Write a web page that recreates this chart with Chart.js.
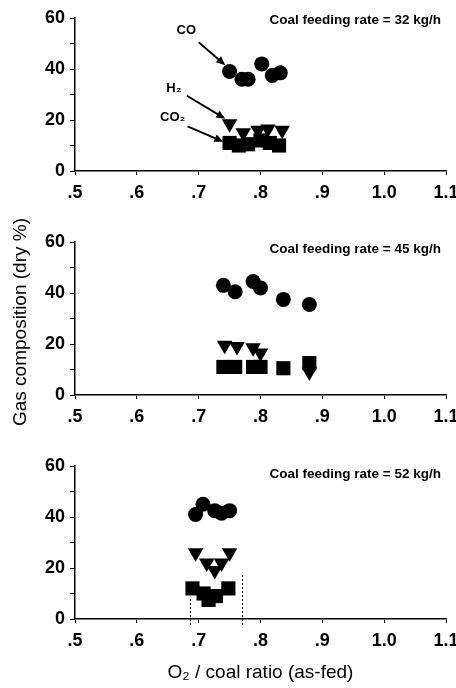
<!DOCTYPE html>
<html>
<head>
<meta charset="utf-8">
<script src="https://cdn.jsdelivr.net/npm/chart.js@4.4.0/dist/chart.umd.min.js"></script>
<style>
  html, body { margin: 0; padding: 0; background: #fff; }
  #wrap { position: relative; width: 456px; height: 688px; overflow: hidden; }
  .pane { position: absolute; left: 0; }
  #ytitle {
    position: absolute; left: 20px; top: 322px; width: 0; height: 0;
  }
  #ytitle span {
    position: absolute; left: 0; top: 0; white-space: nowrap;
    font: 19px "Liberation Sans", Arial, sans-serif; color: #000;
    transform: translate(-50%, -50%) rotate(-90deg);
  }
</style>
</head>
<body>
<div id="wrap">
  <div class="pane" style="top:0;width:456px;height:224px"><canvas id="c1"></canvas></div>
  <div class="pane" style="top:224px;width:456px;height:224px"><canvas id="c2"></canvas></div>
  <div class="pane" style="top:448px;width:456px;height:240px"><canvas id="c3"></canvas></div>
  <div id="ytitle"><span id="ytitleText"></span></div>
</div>
<script>
// ---------- data ----------
const xTickLabels = ['.5', '.6', '.7', '.8', '.9', '1.0', '1.1'];
const yTickLabels = ['0', '20', '40', '60'];
const panelTitles = ['Coal feeding rate = 32 kg/h', 'Coal feeding rate = 45 kg/h', 'Coal feeding rate = 52 kg/h'];
const yAxisTitle = 'Gas composition (dry %)';
const xAxisTitle = 'O\u2082 / coal ratio (as-fed)';

// Panel 1: 32 kg/h
const co1X  = [0.750, 0.770, 0.780, 0.802, 0.819, 0.832];
const co1Y  = [39, 36, 36, 42, 37.5, 38.5];
const h21X  = [0.750, 0.772, 0.796, 0.812, 0.835];
const h21Y  = [18.5, 15, 16, 16.5, 16];
const co21X = [0.750, 0.765, 0.780, 0.800, 0.815, 0.830];
const co21Y = [11, 10, 10.5, 12, 11, 10];

// Panel 2: 45 kg/h
const co2X  = [0.740, 0.759, 0.788, 0.800, 0.837, 0.879];
const co2Y  = [43, 40.5, 44.5, 42, 37.5, 35.5];
const h22X  = [0.742, 0.762, 0.788, 0.800, 0.879];
const h22Y  = [19.5, 19, 18.5, 16.5, 9];
const co22X = [0.740, 0.759, 0.788, 0.800, 0.837, 0.879];
const co22Y = [11, 11, 11, 11, 10.5, 12.5];

// Panel 3: 52 kg/h
const co3X  = [0.695, 0.707, 0.726, 0.737, 0.750];
const co3Y  = [41, 45, 42.5, 41.5, 42.5];
const h23X  = [0.695, 0.713, 0.726, 0.737, 0.750];
const h23Y  = [26, 22, 19, 22, 26];
const co23X = [0.690, 0.708, 0.716, 0.728, 0.748];
const co23Y = [12, 10, 7.5, 9, 12];

// Panel 3 dotted range lines (x, top value)
const rangeX   = [0.686, 0.770];
const rangeTop = [8, 18];

// Panel 1 annotations: label, label pos, arrow start, arrow end (data coords)
const annoText = ['CO', 'H\u2082', 'CO\u2082'];
const annoLabelX = [0.680, 0.660, 0.658];
const annoLabelY = [55, 32.5, 21];
const annoFromX = [0.700, 0.681, 0.682];
const annoFromY = [50.5, 29.5, 17.5];
const annoToX   = [0.743, 0.743, 0.740];
const annoToY   = [41.5, 20.5, 11.5];

const FONT = '"Liberation Sans", Arial, sans-serif';
document.getElementById('ytitleText').textContent = yAxisTitle;

function pts(xs, ys) { return xs.map((x, i) => ({ x: x, y: ys[i] })); }

const titlePlugin = {
  id: 'panelTitle',
  afterDraw(chart) {
    const o = chart.options.plugins.panelTitle;
    if (!o) return;
    const ctx = chart.ctx, a = chart.chartArea;
    ctx.save();
    ctx.font = 'bold 13.5px ' + FONT;
    ctx.fillStyle = '#000';
    ctx.textAlign = 'right';
    ctx.textBaseline = 'middle';
    ctx.fillText(o.text, a.right - 5, a.top + o.dy);
    ctx.restore();
  }
};

const annoPlugin = {
  id: 'annoArrows',
  afterDatasetsDraw(chart) {
    const o = chart.options.plugins.annoArrows;
    if (!o || !o.on) return;
    const ctx = chart.ctx, xs = chart.scales.x, ys = chart.scales.y;
    ctx.save();
    ctx.fillStyle = '#000'; ctx.strokeStyle = '#000';
    ctx.font = 'bold 13px ' + FONT;
    ctx.textAlign = 'center'; ctx.textBaseline = 'middle';
    for (let i = 0; i < annoText.length; i++) {
      ctx.fillText(annoText[i], xs.getPixelForValue(annoLabelX[i]), ys.getPixelForValue(annoLabelY[i]));
      const x1 = xs.getPixelForValue(annoFromX[i]), y1 = ys.getPixelForValue(annoFromY[i]);
      const x2 = xs.getPixelForValue(annoToX[i]), y2 = ys.getPixelForValue(annoToY[i]);
      const ang = Math.atan2(y2 - y1, x2 - x1);
      ctx.lineWidth = 1.8;
      ctx.beginPath(); ctx.moveTo(x1, y1);
      ctx.lineTo(x2 - 6 * Math.cos(ang), y2 - 6 * Math.sin(ang)); ctx.stroke();
      ctx.beginPath();
      ctx.moveTo(x2, y2);
      ctx.lineTo(x2 - 9 * Math.cos(ang) + 4 * Math.sin(ang), y2 - 9 * Math.sin(ang) - 4 * Math.cos(ang));
      ctx.lineTo(x2 - 9 * Math.cos(ang) - 4 * Math.sin(ang), y2 - 9 * Math.sin(ang) + 4 * Math.cos(ang));
      ctx.closePath(); ctx.fill();
    }
    ctx.restore();
  }
};

const rangePlugin = {
  id: 'rangeLines',
  beforeDatasetsDraw(chart) {
    const o = chart.options.plugins.rangeLines;
    if (!o || !o.on) return;
    const ctx = chart.ctx, xs = chart.scales.x, ys = chart.scales.y;
    ctx.save();
    ctx.strokeStyle = '#000'; ctx.lineWidth = 1; ctx.setLineDash([2, 2]);
    for (let i = 0; i < rangeX.length; i++) {
      const x = Math.round(xs.getPixelForValue(rangeX[i])) + 0.5;
      ctx.beginPath();
      ctx.moveTo(x, ys.getPixelForValue(0) + 6);
      ctx.lineTo(x, ys.getPixelForValue(rangeTop[i]));
      ctx.stroke();
    }
    ctx.restore();
  }
};

function makeChart(id, coX, coY, h2X, h2Y, co2X_, co2Y_, opts) {
  const axisH = opts.axisH;
  return new Chart(document.getElementById(id), {
    type: 'scatter',
    data: {
      datasets: [
        { label: 'CO2', data: pts(co2X_, co2Y_), pointStyle: 'rect', pointRadius: 10, backgroundColor: '#000', borderColor: '#000', borderWidth: 0 },
        { label: 'H2', data: pts(h2X, h2Y), pointStyle: 'triangle', rotation: 180, pointRadius: 9, backgroundColor: '#000', borderColor: '#000', borderWidth: 0 },
        { label: 'CO', data: pts(coX, coY), pointStyle: 'circle', pointRadius: 7.5, backgroundColor: '#000', borderColor: '#000', borderWidth: 0 }
      ]
    },
    options: {
      responsive: true,
      maintainAspectRatio: false,
      animation: false,
      events: [],
      layout: { padding: { left: 0, right: 10, top: 18, bottom: 0 } },
      plugins: {
        legend: { display: false },
        tooltip: { enabled: false },
        panelTitle: { text: opts.title, dy: opts.titleDy },
        annoArrows: { on: !!opts.anno },
        rangeLines: { on: !!opts.range }
      },
      scales: {
        x: {
          type: 'linear', min: 0.5, max: 1.1,
          afterBuildTicks(s) { s.ticks = xTickLabels.map((t, i) => ({ value: 0.5 + i * 0.1 })); },
          afterFit(s) { s.height = axisH; s.paddingLeft = 0; s.paddingRight = 0; },
          border: { color: '#000', width: 1.5 },
          grid: { display: true, drawOnChartArea: false, drawTicks: true, tickLength: 4, color: '#000', lineWidth: 1 },
          ticks: {
            color: '#000', font: { family: FONT, size: 18, weight: 'bold' }, padding: 7, maxRotation: 0,
            callback: (v, i) => xTickLabels[i]
          },
          title: {
            display: !!opts.xTitle, text: xAxisTitle, color: '#000',
            font: { family: FONT, size: 19 }, padding: { top: 4, bottom: 4 }
          }
        },
        y: {
          type: 'linear', min: 0, max: 60,
          afterBuildTicks(s) { s.ticks = [0, 10, 20, 30, 40, 50, 60].map(v => ({ value: v })); },
          afterFit(s) { s.width = 75; s.paddingTop = 0; s.paddingBottom = 0; },
          border: { color: '#000', width: 1.5 },
          grid: { display: true, drawOnChartArea: false, drawTicks: true, tickLength: 5, color: '#000', lineWidth: 1 },
          ticks: {
            color: '#000', font: { family: FONT, size: 18, weight: 'bold' }, padding: 5,
            callback: (v) => (v % 20 === 0 ? yTickLabels[v / 20] : '')
          }
        }
      }
    },
    plugins: [titlePlugin, annoPlugin, rangePlugin]
  });
}

makeChart('c1', co1X, co1Y, h21X, h21Y, co21X, co21Y, { axisH: 53, title: panelTitles[0], titleDy: 2, anno: true });
makeChart('c2', co2X, co2Y, h22X, h22Y, co22X, co22Y, { axisH: 53, title: panelTitles[1], titleDy: 7 });
makeChart('c3', co3X, co3Y, h23X, h23Y, co23X, co23Y, { axisH: 69, title: panelTitles[2], titleDy: 8, xTitle: true, range: true });
</script>
</body>
</html>
